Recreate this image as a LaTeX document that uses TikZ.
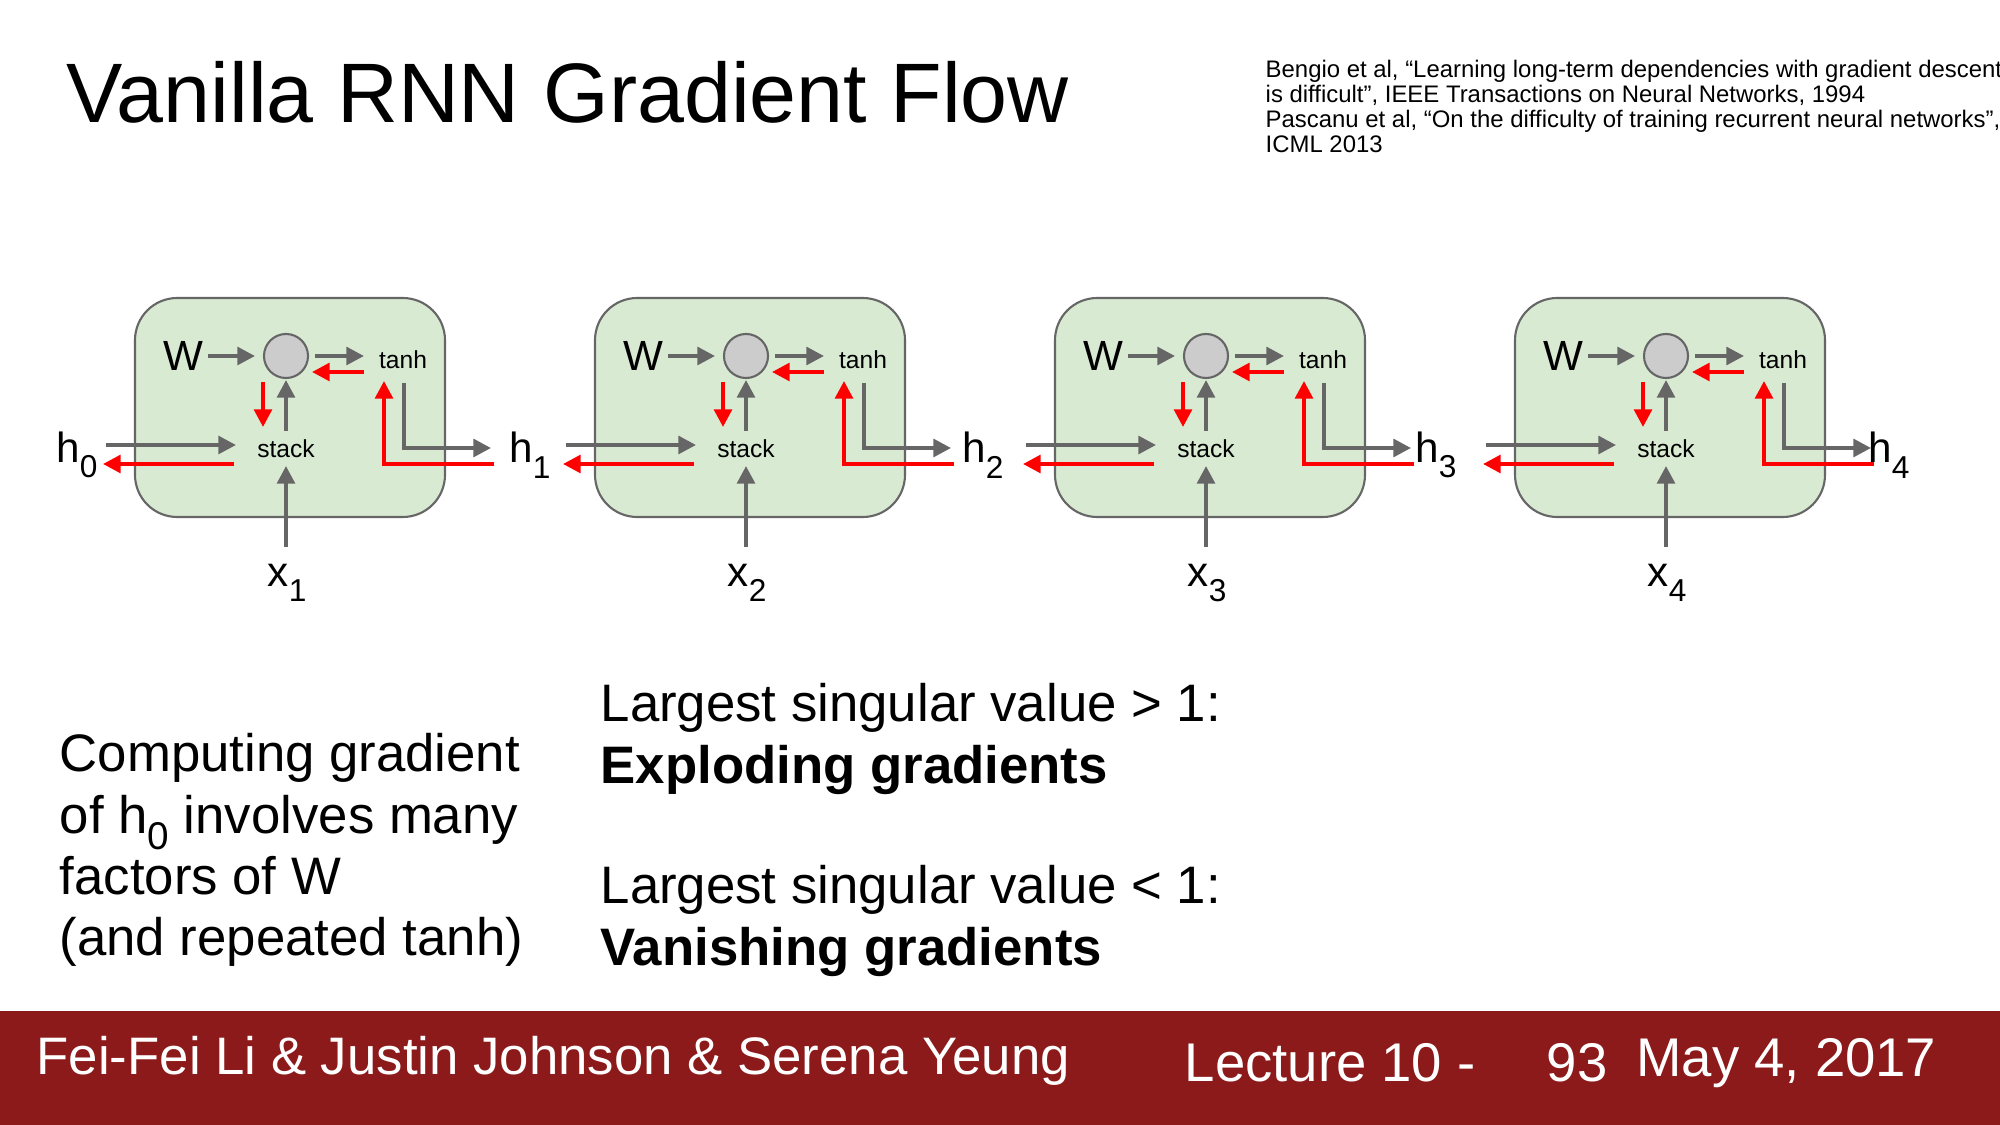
\documentclass[tikz,border=0pt]{standalone}
\usepackage{fontspec}
\setmainfont{Liberation Sans}
\usetikzlibrary{arrows.meta}
\definecolor{cellg}{HTML}{D9EAD3}
\definecolor{arrg}{HTML}{666666}
\definecolor{foot}{HTML}{8C1A1A}
\newcommand{\fs}[1]{\fontsize{#1}{#1}\selectfont}
\newcommand{\sbs}[1]{\raisebox{-0.7ex}{\fs{9}#1}}
\tikzset{
 cellbox/.style={draw=arrg,fill=cellg,rounded corners=12pt,line width=0.6pt},
 garr/.style={draw=arrg,line width=1.1pt,-{Triangle[length=5pt,width=5pt]}},
 rarr/.style={draw=red,line width=1.1pt,-{Triangle[length=5pt,width=5pt]}},
 lab/.style={inner sep=0pt,font=\fs{12}},
 small/.style={inner sep=0pt,font=\fs{7}},
}
\begin{document}
\begin{tikzpicture}[x=0.01cm,y=-0.01cm]
\useasboundingbox (0,0) rectangle (2000,1125);
\fill[white] (0,0) rectangle (2000,1125);
\node[anchor=west,inner sep=0pt,font=\fs{24}] (title) at (66,92) {Vanilla RNN Gradient Flow};
\node[anchor=north west,inner sep=0pt,align=left,font=\fs{6.8}\linespread{1.05}\selectfont] (cite) at (1265,59) {Bengio et al, “Learning long-term dependencies with gradient descent\\is difficult”, IEEE Transactions on Neural Networks, 1994\\Pascanu et al, “On the difficulty of training recurrent neural networks”,\\ICML 2013};
% h labels
\foreach \i in {0,...,4}{
 \node[lab] (h\i) at ({77+453*\i},455) {h\sbs{\i}};
}
\foreach \i/\c in {1/0,2/1,3/2,4/3}{
 \begin{scope}[xshift={460*(\i-1)*0.01cm}]
 \draw[cellbox] (135,298) rectangle (445,517);
 \node[circle,draw=arrg,fill=black!20,minimum size=44pt*0.2845,inner sep=0pt,line width=0.6pt] (c\i) at (286,356) {};
 \node[lab] (w\i) at (183,356) {W};
 \node[small] (t\i) at (403,360) {tanh};
 \node[small] (s\i) at (286,449) {stack};
 \node[lab] (x\i) at (287,583) {x\sbs{\i}};
 \draw[garr] (208,356) -- (255,356);
 \draw[garr] (315,356) -- (364,356);
 \draw[rarr] (364,372) -- (312,372);
 \draw[rarr] (263,382) -- (263,427);
 \draw[garr] (286,431) -- (286,380);
 \draw[garr] (106,445) -- (236,445);
 \draw[rarr] (234,464) -- (103,464);
 \draw[garr] (286,547) -- (286,466);
 \draw[garr] (404,383) -- (404,448) -- (491,448);
 \draw[rarr] (494,464) -- (384,464) -- (384,381);
 \end{scope}
}
% bottom texts
\node[anchor=north west,inner sep=0pt,align=left,font=\fs{15}\linespread{1.16}\selectfont] (comp) at (59,733) {Computing gradient\\of h\raisebox{-0.6ex}{\fs{11}0} involves many\\factors of W\\(and repeated tanh)};
\node[anchor=north west,inner sep=0pt,align=left,font=\fs{15}\linespread{1.16}\selectfont] (exp) at (600,683) {Largest singular value > 1:\\\textbf{Exploding gradients}};
\node[anchor=north west,inner sep=0pt,align=left,font=\fs{15}\linespread{1.16}\selectfont] (van) at (600,865) {Largest singular value < 1:\\\textbf{Vanishing gradients}};
% footer
\fill[foot] (0,1011) rectangle (2000,1125);
\node[anchor=west,inner sep=0pt,text=white,font=\fs{15}] (names) at (36,1061) {Fei-Fei Li \& Justin Johnson \& Serena Yeung};
\node[anchor=west,inner sep=0pt,text=white,font=\fs{15.5}] (lec) at (1184,1063) {Lecture 10 -};
\node[anchor=west,inner sep=0pt,text=white,font=\fs{15.5}] (pg) at (1546,1063) {93};
\node[anchor=east,inner sep=0pt,text=white,font=\fs{15.5}] (date) at (1937,1063) {May 4, 2017};
\end{tikzpicture}
\end{document}
